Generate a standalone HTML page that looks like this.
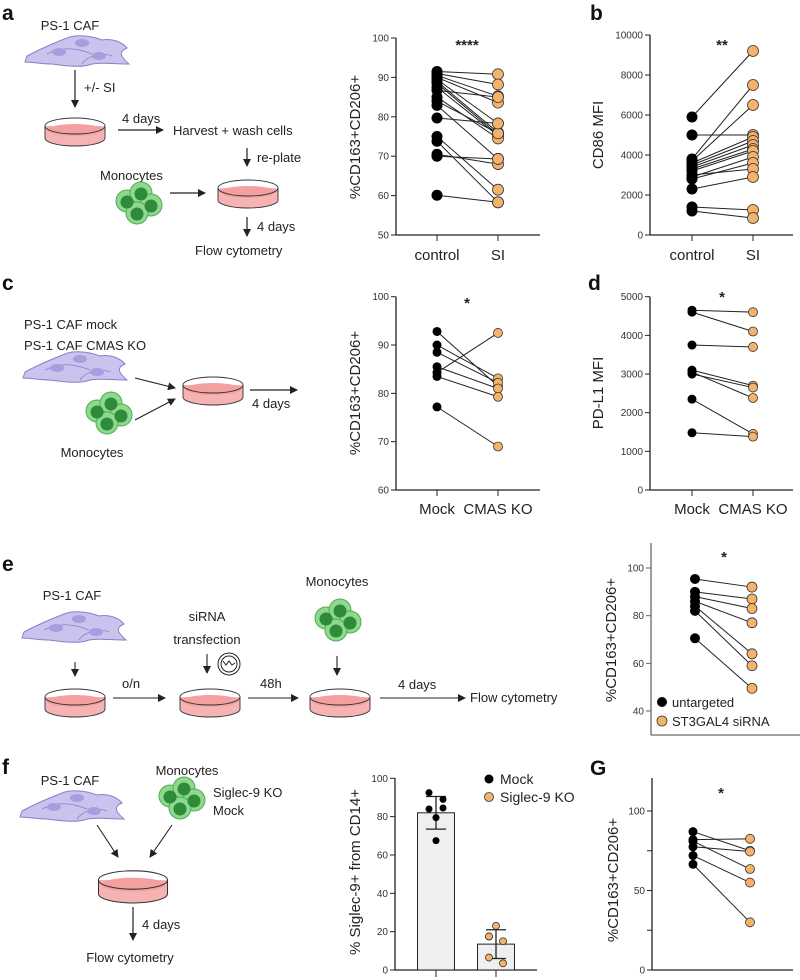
<!DOCTYPE html>
<html><head><meta charset="utf-8">
<style>
html,body{margin:0;padding:0;background:#fff;}
svg{display:block;font-family:"Liberation Sans",Arial,sans-serif;}
.t{font-size:13px;fill:#222;}
.tk{font-size:10px;fill:#333;}
.cat{font-size:15px;fill:#222;}
.yl{font-size:15px;fill:#222;}
.pl{font-size:21px;font-weight:bold;fill:#111;}
</style></head>
<body>
<svg id="fig" width="800" height="980" viewBox="0 0 800 980" xmlns="http://www.w3.org/2000/svg">
<defs>
<marker id="ah" markerWidth="8" markerHeight="8" refX="7" refY="4" orient="auto" markerUnits="userSpaceOnUse"><path d="M0,0 L8,4 L0,8 Z" fill="#222"/></marker>
<g id="caf">
 <path d="M-50,4 C-35,-4 -25,-8 -10,-14 C0,-18 15,-16 25,-12 C35,-14 45,-10 50,-4 C40,0 45,6 52,12 C35,12 25,10 15,12 C5,16 -10,14 -25,12 C-35,12 -45,10 -52,10 Z" fill="#c9c3ee" stroke="#8a80c8" stroke-width="1"/>
 <path d="M-30,2 C-15,-6 0,-4 15,2 M5,12 C10,4 25,0 35,4" fill="none" stroke="#8a80c8" stroke-width="0.8"/>
 <ellipse cx="-18" cy="0" rx="7" ry="4" fill="#a99de0"/>
 <ellipse cx="5" cy="-9" rx="7" ry="4" fill="#a99de0"/>
 <ellipse cx="22" cy="4" rx="7" ry="4" fill="#a99de0"/>
</g>
<g id="dish">
 <path d="M-30,0 L-30,12 A30,8 0 0 0 30,12 L30,0" fill="#f6b3b3" stroke="#333" stroke-width="0.9"/>
 <ellipse cx="0" cy="4" rx="28" ry="6" fill="#f4a0a0"/>
 <ellipse cx="0" cy="0" rx="30" ry="8" fill="none" stroke="#333" stroke-width="0.9"/>
</g>
<g id="mono">
 <g fill="#8fd88f" stroke="#4caf50" stroke-width="1">
 <circle cx="-10" cy="-4" r="11"/><circle cx="4" cy="-12" r="11"/><circle cx="14" cy="0" r="11"/><circle cx="0" cy="8" r="11"/>
 </g>
 <g fill="#2e8b3a"><circle cx="-10" cy="-3" r="6.5"/><circle cx="4" cy="-11" r="6.5"/><circle cx="14" cy="1" r="6.5"/><circle cx="0" cy="9" r="6.5"/></g>
</g>
</defs>

<!-- Panel labels -->
<text class="pl" x="2" y="20">a</text>
<text class="pl" x="590" y="20">b</text>
<text class="pl" x="2" y="290">c</text>
<text class="pl" x="588" y="290">d</text>
<text class="pl" x="2" y="571">e</text>
<text class="pl" x="2" y="774">f</text>
<text class="pl" x="590" y="775">G</text>

<!-- Schematic a -->
<g>
 <text class="t" x="70" y="30" text-anchor="middle">PS-1 CAF</text>
 <use href="#caf" x="77" y="52"/>
 <line x1="75" y1="70" x2="75" y2="107" stroke="#222" stroke-width="1.2" marker-end="url(#ah)"/>
 <text class="t" x="84" y="92">+/- SI</text>
 <use href="#dish" x="75" y="126"/>
 <text class="t" x="122" y="123" font-size="12">4 days</text>
 <line x1="118" y1="130" x2="163" y2="130" stroke="#222" stroke-width="1.2" marker-end="url(#ah)"/>
 <text class="t" x="173" y="135" font-size="14">Harvest + wash cells</text>
 <line x1="247" y1="148" x2="247" y2="166" stroke="#222" stroke-width="1.2" marker-end="url(#ah)"/>
 <text class="t" x="257" y="162" font-size="12">re-plate</text>
 <text class="t" x="100" y="180" font-size="14">Monocytes</text>
 <use href="#mono" x="137" y="205"/>
 <line x1="170" y1="193" x2="205" y2="193" stroke="#222" stroke-width="1.2" marker-end="url(#ah)"/>
 <use href="#dish" x="248" y="188"/>
 <line x1="247" y1="217" x2="247" y2="236" stroke="#222" stroke-width="1.2" marker-end="url(#ah)"/>
 <text class="t" x="257" y="231" font-size="12">4 days</text>
 <text class="t" x="195" y="255" font-size="14">Flow cytometry</text>
</g>

<!-- Schematic c -->
<g>
 <text class="t" x="24" y="329" font-size="14">PS-1 CAF mock</text>
 <text class="t" x="24" y="350" font-size="14">PS-1 CAF CMAS KO</text>
 <use href="#caf" x="75" y="368"/>
 <line x1="135" y1="378" x2="175" y2="388" stroke="#222" stroke-width="1.1" marker-end="url(#ah)"/>
 <line x1="135" y1="420" x2="175" y2="399" stroke="#222" stroke-width="1.1" marker-end="url(#ah)"/>
 <use href="#mono" x="107" y="415"/>
 <text class="t" x="92" y="457" font-size="14" text-anchor="middle">Monocytes</text>
 <use href="#dish" x="213" y="385"/>
 <line x1="250" y1="390" x2="297" y2="390" stroke="#222" stroke-width="1.2" marker-end="url(#ah)"/>
 <text class="t" x="252" y="408" font-size="12">4 days</text>
</g>

<!-- Schematic e -->
<g>
 <text class="t" x="72" y="600" text-anchor="middle">PS-1 CAF</text>
 <use href="#caf" x="74" y="628" transform="scale(1)"/>
 <line x1="75" y1="662" x2="75" y2="676" stroke="#222" stroke-width="1.1" marker-end="url(#ah)"/>
 <use href="#dish" x="75" y="697"/>
 <text class="t" x="122" y="688" font-size="12">o/n</text>
 <line x1="113" y1="698" x2="165" y2="698" stroke="#222" stroke-width="1.1" marker-end="url(#ah)"/>
 <text class="t" x="207" y="621" text-anchor="middle" font-size="12">siRNA</text>
 <text class="t" x="207" y="644" text-anchor="middle" font-size="12">transfection</text>
 <line x1="207" y1="654" x2="207" y2="673" stroke="#222" stroke-width="1.1" marker-end="url(#ah)"/>
 <circle cx="229" cy="664" r="11" fill="none" stroke="#222" stroke-width="1"/>
 <circle cx="229" cy="664" r="8" fill="none" stroke="#222" stroke-width="1"/>
 <path d="M223,661 l3,4 l3,-4 l3,4 l3,-2" fill="none" stroke="#222" stroke-width="1"/>
 <use href="#dish" x="210" y="697"/>
 <text class="t" x="260" y="688" font-size="12">48h</text>
 <line x1="248" y1="698" x2="298" y2="698" stroke="#222" stroke-width="1.1" marker-end="url(#ah)"/>
 <text class="t" x="337" y="586" text-anchor="middle" font-size="12">Monocytes</text>
 <use href="#mono" x="336" y="622"/>
 <line x1="337" y1="656" x2="337" y2="675" stroke="#222" stroke-width="1.1" marker-end="url(#ah)"/>
 <use href="#dish" x="340" y="697"/>
 <text class="t" x="398" y="689" font-size="12">4 days</text>
 <line x1="380" y1="698" x2="465" y2="698" stroke="#222" stroke-width="1.1" marker-end="url(#ah)"/>
 <text class="t" x="470" y="702" font-size="13">Flow cytometry</text>
</g>

<!-- Schematic f -->
<g>
 <text class="t" x="70" y="785" font-size="14" text-anchor="middle">PS-1 CAF</text>
 <use href="#caf" x="72" y="807"/>
 <text class="t" x="187" y="775" font-size="13" text-anchor="middle">Monocytes</text>
 <use href="#mono" x="180" y="800"/>
 <text class="t" x="213" y="797" font-size="13">Siglec-9 KO</text>
 <text class="t" x="213" y="815" font-size="13">Mock</text>
 <line x1="97" y1="825" x2="118" y2="857" stroke="#222" stroke-width="1.1" marker-end="url(#ah)"/>
 <line x1="172" y1="825" x2="150" y2="857" stroke="#222" stroke-width="1.1" marker-end="url(#ah)"/>
 <g transform="translate(133,880) scale(1.15)"><use href="#dish"/></g>
 <line x1="133" y1="907" x2="133" y2="940" stroke="#222" stroke-width="1.2" marker-end="url(#ah)"/>
 <text class="t" x="142" y="929" font-size="12">4 days</text>
 <text class="t" x="130" y="962" font-size="14" text-anchor="middle">Flow cytometry</text>
</g>

<g id="charts"></g>
</svg>

<script>
// Panel a data
const aTicks=[50,60,70,80,90,100];
const aCtrl=[91.5,91,90.5,90,89.5,89,88.5,87.5,86.7,85,84,82.9,79.7,75,73.8,70.5,70,60.1];
const aSI=[90.8,88.2,85.2,83.6,78.3,76,75.5,75.2,85,74.5,75.8,69.3,78.3,61.5,58.3,68,69.3,58.3];
// Panel b data
const bTicks=[0,2000,4000,6000,8000,10000];
const bCtrl=[5900,3800,3700,5000,3600,3500,3400,3300,3200,2900,2800,3000,2300,1400,1200];
const bSI=[9200,7500,6500,5000,4900,4700,4500,4300,4200,3900,3600,3300,2900,1250,850];
// Panel c data
const cTicks=[60,70,80,90,100];
const cMock=[92.8,90,88.5,85.5,84.3,83.5,77.2];
const cKO=[81.5,83.1,82.2,81,92.5,79.3,69];
// Panel d data
const dTicks=[0,1000,2000,3000,4000,5000];
const dMock=[4650,4600,3750,3100,3000,3050,2350,1480];
const dKO=[4600,4100,3700,2700,2650,2380,1450,1380];
// Panel e data
const eTicks=[40,60,80,100];
const eUn=[95.4,90,88,86,84,82,70.5];
const eSi=[92,87,83,77,64,59,49.5];
// Panel G data
const gTicks=[0,25,50,75,100];
const gTickLabels=["0","","50","","100"];
const gMock=[87,82,77.5,81,72,66.5];
const gKO=[75,82.5,74.5,63.5,55,30];
// Panel f data
const fTicks=[0,20,40,60,80,100];
const fGroups=["Mock","Siglec-9 KO"];
const fMeans=[82,13.5];
const fSD=[8.5,7.5];
const fMockPts=[92.5,89,84,84.5,79.5,67.5];
const fKOPts=[23,17.5,17.5,15,6.5,3.5];

const NS="http://www.w3.org/2000/svg";
const root=document.getElementById('charts');
const ORANGE="#f4b26b";
function mk(tag,attrs,parent){const e=document.createElementNS(NS,tag);for(const k in attrs)e.setAttribute(k,attrs[k]);(parent||root).appendChild(e);return e;}
function txt(s,attrs,parent){const e=mk('text',attrs,parent);e.textContent=s;return e;}

function axes(g,ax,ticks,labels,fmt){
  // ax: x0 (axis x), yv(v), top, bottom, xEnd
  const yl=mk('line',{x1:ax.x0,y1:ax.top,x2:ax.x0,y2:ax.bottom,stroke:ax.col||'#222','stroke-width':1.3},g);
  
  
  ticks.forEach((t,i)=>{
    const y=ax.yv(t);
    mk('line',{x1:ax.x0-5,y1:y,x2:ax.x0,y2:y,stroke:ax.col||'#222','stroke-width':1},g);
    const lab=labels?labels[i]:String(t);
    if(lab!==""){const tl=txt(lab,{x:ax.x0-7,y:y+3.5,'text-anchor':'end','class':'tk'},g);
    
    }
  });
  if(ax.xEnd){const xl=mk('line',{x1:ax.x0,y1:ax.bottom,x2:ax.xEnd,y2:ax.bottom,stroke:ax.col||'#222','stroke-width':1.3},g);
  
  }
}

function paired(name,cfg,left,right,ticks,labels){
  const g=mk('g',{});
  
  
  const yv=v=>cfg.y0+(v-cfg.v0)*(cfg.y1-cfg.y0)/(cfg.v1-cfg.v0);
  axes(g,{x0:cfg.x0,yv:yv,top:cfg.top,bottom:cfg.bottom,xEnd:cfg.xEnd,col:cfg.col},ticks,labels);
  if(cfg.catTicks){[cfg.xL,cfg.xR].forEach(x=>mk('line',{x1:x,y1:cfg.bottom,x2:x,y2:cfg.bottom+6,stroke:'#222','stroke-width':1},g));}
  left.forEach((v,i)=>{
    const l=mk('line',{x1:cfg.xL,y1:yv(v),x2:cfg.xR,y2:yv(right[i]),stroke:'#222','stroke-width':1},g);
    
    
  });
  left.forEach(v=>{const c=mk('circle',{cx:cfg.xL,cy:yv(v),r:cfg.r,fill:'#000'},g);
    
    });
  right.forEach(v=>{const c=mk('circle',{cx:cfg.xR,cy:yv(v),r:cfg.r,fill:ORANGE,stroke:'#333','stroke-width':0.8},g);
    
    });
  return g;
}

// a
let g=paired('chart-a',{x0:396,v0:50,v1:100,y0:235,y1:38,top:38,bottom:235,xEnd:540,xL:437,xR:498,r:5.5,catTicks:true},aCtrl,aSI,aTicks);
// b
paired('chart-b',{x0:650,v0:0,v1:10000,y0:235,y1:35,top:35,bottom:235,xEnd:793,xL:692,xR:753,r:5.5,catTicks:true},bCtrl,bSI,bTicks);
// c
paired('chart-c',{x0:396,v0:60,v1:100,y0:490,y1:296.7,top:296.7,bottom:490,xEnd:540,xL:437,xR:498,r:4.5,catTicks:true},cMock,cKO,cTicks);
// d
paired('chart-d',{x0:650,v0:0,v1:5000,y0:490,y1:296.7,top:296.7,bottom:490,xEnd:793,xL:692,xR:753,r:4.5,catTicks:true},dMock,dKO,dTicks);
// e
paired('chart-e',{x0:651,v0:40,v1:100,y0:711,y1:568,top:543,bottom:735,xEnd:800,xL:695,xR:752,r:5,col:'#666'},eUn,eSi,eTicks);
// G
paired('chart-g',{x0:652,v0:0,v1:100,y0:970,y1:811,top:778,bottom:970,xEnd:793,xL:693,xR:750,r:4.5},gMock,gKO,gTicks,gTickLabels);

// category labels & titles
const labs=[["control",437,260],["SI",498,260],["control",692,260],["SI",753,260],["Mock",437,514],["CMAS KO",498,514],["Mock",692,514],["CMAS KO",753,514]];
labs.forEach(l=>{const t=txt(l[0],{x:l[1],y:l[2],'text-anchor':'middle','class':'cat'});
  
  });
const ytitles=[["%CD163+CD206+",360,137],["CD86 MFI",603,135],["%CD163+CD206+",360,393],["PD-L1 MFI",603,393],["%CD163+CD206+",616,640],["% Siglec-9+ from CD14+",360,872],["%CD163+CD206+",618,880]];
ytitles.forEach(l=>{const t=txt(l[0],{x:0,y:0,'text-anchor':'middle','class':'yl',transform:`translate(${l[1]},${l[2]}) rotate(-90)`});
  
  });
const stars=[["****",467,50],["**",722,50],["*",467,308],["*",722,302],["*",724,562],["*",721,798]];
stars.forEach(s=>{const t=txt(s[0],{x:s[1],y:s[2],'text-anchor':'middle','font-size':15,'font-weight':'bold',fill:'#222'});
  
  });

// e legend
const leg=mk('g',{});


mk('circle',{cx:662,cy:702,r:5,fill:'#000'},leg);
txt('untargeted',{x:672,y:707,'font-size':13,fill:'#222'},leg);
mk('circle',{cx:662,cy:721,r:5,fill:ORANGE,stroke:'#333','stroke-width':0.8},leg);
txt('ST3GAL4 siRNA',{x:672,y:726,'font-size':13,fill:'#222'},leg);

// f bar chart
const fg=mk('g',{});


const fy=v=>970+(v-0)*(778.3-970)/100;
axes(fg,{x0:395,yv:fy,top:778,bottom:970,xEnd:537},fTicks);
const fx=[436,496];
fMeans.forEach((m,i)=>{
  const b=mk('rect',{x:fx[i]-18.5,y:fy(m),width:37,height:970-fy(m),fill:'#efefef',stroke:'#222','stroke-width':1},fg);
  
  
  mk('line',{x1:fx[i],y1:970,x2:fx[i],y2:977,stroke:'#222','stroke-width':1},fg);
  const e1=fy(m+fSD[i]),e2=fy(m-fSD[i]);
  const eb=mk('path',{d:`M${fx[i]},${e1}V${e2}M${fx[i]-10},${e1}H${fx[i]+10}M${fx[i]-10},${e2}H${fx[i]+10}`,stroke:'#222','stroke-width':1.3,fill:'none'},fg);
  
  
});
function jit(pts,idx){ // spread duplicates left/right
  const out=[];pts.forEach((v,i)=>{let dx=0;for(let j=0;j<pts.length;j++){if(j!==i&&Math.abs(pts[j]-v)<4){dx=(j>i)?-7:7;}}out.push(dx);});return out;}
const mj=jit(fMockPts), kj=jit(fKOPts);
fMockPts.forEach((v,i)=>{const c=mk('circle',{cx:fx[0]+mj[i],cy:fy(v),r:3.5,fill:'#000'},fg);
  
  });
fKOPts.forEach((v,i)=>{const c=mk('circle',{cx:fx[1]+kj[i],cy:fy(v),r:3.5,fill:ORANGE,stroke:'#333','stroke-width':0.8},fg);
  
  });
const fl=mk('g',{});


mk('circle',{cx:489,cy:779,r:4.5,fill:'#000'},fl);
txt('Mock',{x:500,y:784,'font-size':14,fill:'#222'},fl);
mk('circle',{cx:489,cy:797,r:4.5,fill:ORANGE,stroke:'#333','stroke-width':0.8},fl);
txt('Siglec-9 KO',{x:500,y:802,'font-size':14,fill:'#222'},fl);
</script>
</body></html>
